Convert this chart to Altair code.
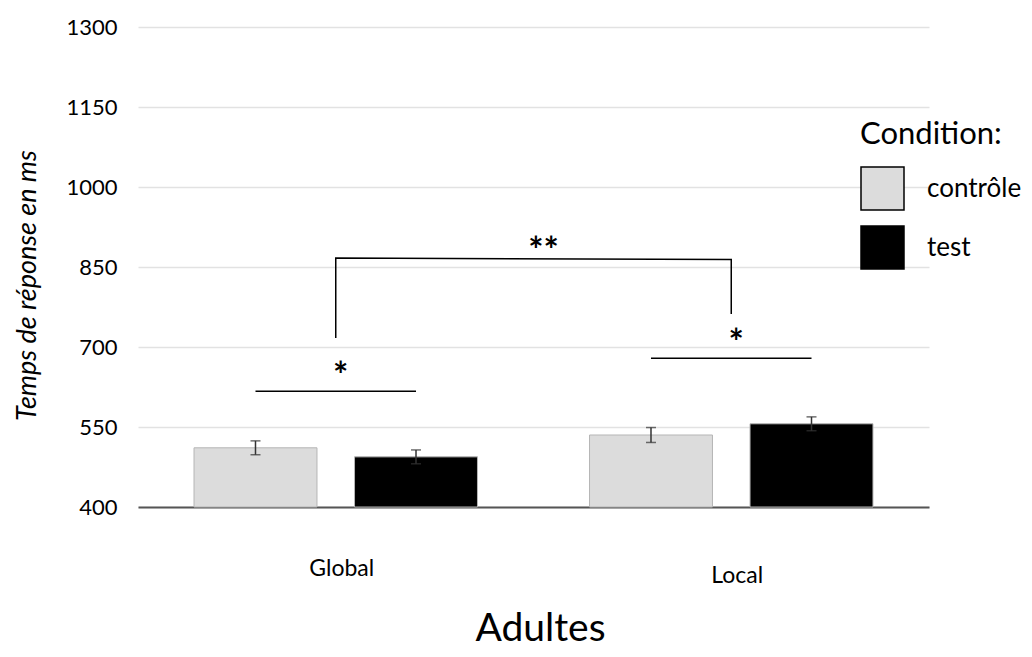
import altair as alt
import pandas as pd

# ---- data ----
groups = ["Global", "Global", "Local", "Local"]
conditions = ["contrôle", "test", "contrôle", "test"]
means = [511, 494, 535, 556]
errors = [13, 13, 14, 13]

# significance lines (contrôle -> test inside each group)
sig_groups = ["Global", "Global", "Local", "Local"]
sig_conds = ["contrôle", "test", "contrôle", "test"]
sig_values = [617, 617, 679, 679]
sig_ids = ["g", "g", "l", "l"]

# bracket between groups
br_groups = ["Global", "Global", "Local", "Local"]
br_values = [717, 867, 864, 762]
br_order = [0, 1, 2, 3]

# asterisks
star_groups = ["Global", "Local"]
star_values = [661, 722]
star_labels = ["*", "*"]
big_star_value = [895]
big_star_label = ["**"]

y_ticks = [400, 550, 700, 850, 1000, 1150, 1300]

FONT = "Lato"

bars_df = pd.DataFrame({
    "groupe": groups, "condition": conditions, "moyenne": means, "err": errors,
})
bars_df["lo"] = bars_df["moyenne"] - bars_df["err"]
bars_df["hi"] = bars_df["moyenne"] + bars_df["err"]

sig_df = pd.DataFrame({"groupe": sig_groups, "condition": sig_conds,
                       "v": sig_values, "id": sig_ids})
br_df = pd.DataFrame({"groupe": br_groups, "v": br_values, "o": br_order})
star_df = pd.DataFrame({"groupe": star_groups, "v": star_values, "t": star_labels})
big_df = pd.DataFrame({"groupe": ["Global"], "v": big_star_value, "t": big_star_label})

cond_domain = ["contrôle", "test"]
y_scale = alt.Scale(domain=[400, 1300], nice=False, zero=False)
x_scale = alt.Scale(paddingInner=0, paddingOuter=0)
xo_scale = alt.Scale(domain=cond_domain, paddingInner=0.234, paddingOuter=0.349)

x_enc = alt.X(
    "groupe:N", scale=x_scale, sort=["Global", "Local"],
    axis=alt.Axis(
        title="Adultes", labelAngle=0, labelFont=FONT, labelFontSize=23,
        labelColor="black", ticks=False, tickSize=0, grid=False,
        labelBaseline="top",
        labelPadding=alt.condition("datum.value == 'Local'", alt.value(57), alt.value(50)),
        labelOffset=6,
        domainColor="#555555", domainWidth=2,
        titleFont=FONT, titleFontSize=39, titleFontWeight="normal", titleColor="black",
        titleAnchor="start", titleAlign="center", titleBaseline="alphabetic",
        titleX=402, titleY=133,
    ),
)
y_enc = alt.Y(
    "moyenne:Q", scale=y_scale,
    axis=alt.Axis(
        title="Temps de réponse en ms", values=y_ticks, format="d", domain=False,
        ticks=False, tickSize=0, labelPadding=21, labelFont=FONT, labelFontSize=22,
        labelColor="black", gridColor="#e2e2e2", gridWidth=1.5,
        titleFont=FONT, titleFontSize=27, titleFontStyle="italic",
        titleFontWeight="normal", titleColor="black",
        titleAnchor="start", titleAlign="center", titleBaseline="middle",
        titleAngle=270, titleX=-111, titleY=258,
    ),
)

color_enc = alt.Color(
    "condition:N",
    scale=alt.Scale(domain=cond_domain, range=["#dcdcdc", "#000000"]),
    legend=alt.Legend(
        title="Condition:", orient="none", legendX=722, legendY=93,
        direction="vertical", titleFont=FONT, titleFontSize=31,
        titleFontWeight="normal", titleColor="black", titlePadding=15,
        labelFont=FONT, labelFontSize=26, labelColor="black", labelOffset=22,
        symbolType="square", symbolSize=1849, symbolStrokeColor="black",
        symbolStrokeWidth=1.5, symbolOpacity=1, rowPadding=10, padding=0,
    ),
)

base = alt.Chart(bars_df)

bars = base.mark_bar(stroke="#b5b5b5", strokeWidth=1, opacity=1).encode(
    x=x_enc,
    xOffset=alt.XOffset("condition:N", scale=xo_scale, sort=cond_domain),
    y=y_enc,
    y2=alt.datum(400),
    color=color_enc,
)

err_rule = base.mark_rule(color="#333333", strokeWidth=1.5).encode(
    x=alt.X("groupe:N", sort=["Global", "Local"]),
    xOffset=alt.XOffset("condition:N", sort=cond_domain),
    y=alt.Y("lo:Q"), y2="hi:Q",
)
err_lo = base.mark_tick(color="#333333", thickness=1.5, size=10, orient="horizontal").encode(
    x=alt.X("groupe:N", sort=["Global", "Local"]),
    xOffset=alt.XOffset("condition:N", sort=cond_domain),
    y=alt.Y("lo:Q"),
)
err_hi = base.mark_tick(color="#333333", thickness=1.5, size=10, orient="horizontal").encode(
    x=alt.X("groupe:N", sort=["Global", "Local"]),
    xOffset=alt.XOffset("condition:N", sort=cond_domain),
    y=alt.Y("hi:Q"),
)

sig_lines = alt.Chart(sig_df).mark_line(color="black", strokeWidth=1.5).encode(
    x=alt.X("groupe:N", sort=["Global", "Local"]),
    xOffset=alt.XOffset("condition:N", sort=cond_domain),
    y=alt.Y("v:Q"),
    detail="id:N",
)

bracket = alt.Chart(br_df).mark_line(color="black", strokeWidth=1.5).encode(
    x=alt.X("groupe:N", sort=["Global", "Local"]),
    y=alt.Y("v:Q"),
    order="o:Q",
)

stars = alt.Chart(star_df).mark_text(
    font=FONT, fontSize=36, fontWeight="bold", color="black",
    baseline="middle", align="center", dx=5, dy=9,
).encode(
    x=alt.X("groupe:N", sort=["Global", "Local"]),
    y=alt.Y("v:Q"),
    text="t:N",
)

big_stars = alt.Chart(big_df).mark_text(
    font=FONT, fontSize=36, fontWeight="bold", color="black",
    baseline="middle", align="center", dx=10, dy=9,
).encode(
    x=alt.X("groupe:N", sort=["Global", "Local"], bandPosition=1),
    y=alt.Y("v:Q"),
    text="t:N",
)

chart = alt.layer(
    bars, err_rule, err_lo, err_hi, sig_lines, bracket, stars, big_stars
).properties(
    width=791, height=480,
    autosize=alt.AutoSizeParams(type="none"),
    padding={"left": 130, "top": 19, "right": 95, "bottom": 142},
).configure(font=FONT, background="white").configure_view(stroke=None)

chart.save("out.html", embed_options={"renderer": "svg", "actions": False})
